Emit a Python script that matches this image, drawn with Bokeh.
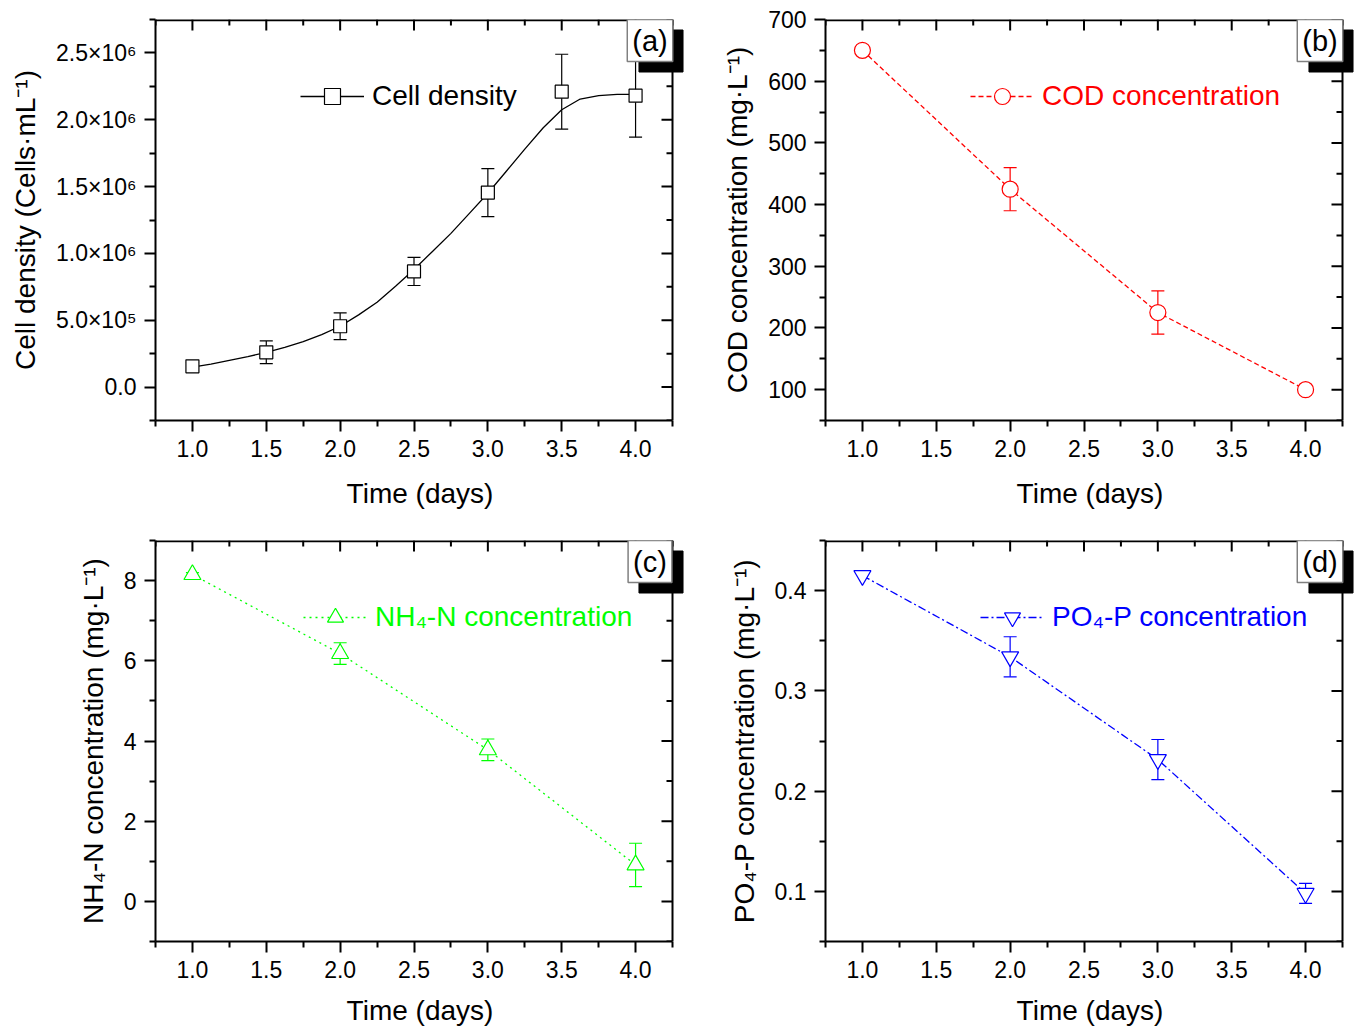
from bokeh.plotting import figure
from bokeh.models import (Range1d, FixedTicker, Whisker, TeeHead, ColumnDataSource,
                          Legend, LegendItem, Label)
from bokeh.layouts import column, row
from bokeh.embed import file_html
from bokeh.resources import INLINE

FONT = "'Liberation Sans', Arial, sans-serif"

# ---------------- data ----------------
time_ticks = [1.0, 1.5, 2.0, 2.5, 3.0, 3.5, 4.0]
time_tick_labels = ["1.0", "1.5", "2.0", "2.5", "3.0", "3.5", "4.0"]
time_minor = [0.75, 1.25, 1.75, 2.25, 2.75, 3.25, 3.75, 4.25]
time_title = "Time (days)"

cell_days = [1.0, 1.5, 2.0, 2.5, 3.0, 3.5, 4.0]
cell_density = [1.55e5, 2.6e5, 4.55e5, 8.65e5, 1.455e6, 2.21e6, 2.18e6]
cell_err = [3.0e4, 8.5e4, 1.0e5, 1.05e5, 1.8e5, 2.8e5, 3.1e5]
fit_days = [1.0, 1.125, 1.25, 1.375, 1.5, 1.625, 1.75, 1.875, 2.0, 2.125, 2.25, 2.375, 2.5,
            2.625, 2.75, 2.875, 3.0, 3.125, 3.25, 3.375, 3.5, 3.625, 3.75, 3.875, 4.0]
fit_density = [1.5e5, 1.72e5, 2.0e5, 2.28e5, 2.6e5, 2.97e5, 3.4e5, 3.93e5, 4.55e5, 5.4e5, 6.35e5,
               7.55e5, 8.8e5, 1.015e6, 1.15e6, 1.3e6, 1.45e6, 1.615e6, 1.78e6, 1.94e6, 2.075e6,
               2.155e6, 2.18e6, 2.19e6, 2.19e6]
cell_ticks = [0, 5e5, 1e6, 1.5e6, 2e6, 2.5e6]
cell_tick_labels = ["0.0", "5.0×10⁵", "1.0×10⁶", "1.5×10⁶", "2.0×10⁶", "2.5×10⁶"]
cell_minor = [-2.5e5, 2.5e5, 7.5e5, 1.25e6, 1.75e6, 2.25e6, 2.75e6]

cod_days = [1.0, 2.0, 3.0, 4.0]
cod = [650, 425, 225, 100]
cod_err = [0, 35, 35, 0]
cod_ticks = [100, 200, 300, 400, 500, 600, 700]
cod_tick_labels = ["100", "200", "300", "400", "500", "600", "700"]
cod_minor = [50, 150, 250, 350, 450, 550, 650]

nh4_days = [1.0, 2.0, 3.0, 4.0]
nh4 = [8.15, 6.18, 3.78, 0.91]
nh4_err = [0.05, 0.27, 0.27, 0.54]
nh4_ticks = [0, 2, 4, 6, 8]
nh4_tick_labels = ["0", "2", "4", "6", "8"]
nh4_minor = [-1, 1, 3, 5, 7, 9]

po4_days = [1.0, 2.0, 3.0, 4.0]
po4 = [0.415, 0.334, 0.2315, 0.098]
po4_err = [0, 0.02, 0.02, 0.01]
po4_ticks = [0.1, 0.2, 0.3, 0.4]
po4_tick_labels = ["0.1", "0.2", "0.3", "0.4"]
po4_minor = [0.05, 0.15, 0.25, 0.35, 0.45]

FW, FH = 517, 401   # visible frame size in px
EXT = 12            # extra drawing room right of the visible frame (for the label shadow)


def make_panel(W, H, bl, br, bt, bb, yr, yticks, ylabels, yminor, ytitle, letter,
               color, marker, msize, xs, ys, errs, legend_label, dash, leg_x,
               line_x=None, line_y=None, title_standoff=14):
    x0, xv = 0.75, 4.25          # visible x-limits of the panel box
    y0, y1 = yr
    sx = (xv - x0) / FW
    sy = (y1 - y0) / FH
    x1 = xv + EXT * sx
    p = figure(width=W, height=H, x_range=Range1d(x0, x1), y_range=Range1d(y0, y1),
               output_backend="svg", toolbar_location=None,
               min_border_left=bl, min_border_right=br - EXT, min_border_top=bt, min_border_bottom=bb)
    p.background_fill_color = "white"
    p.border_fill_color = "white"
    p.outline_line_color = None
    p.xgrid.visible = False
    p.ygrid.visible = False

    xt = FixedTicker(ticks=time_ticks, minor_ticks=time_minor)
    yt = FixedTicker(ticks=yticks, minor_ticks=yminor)

    for ax, tk, labs in ((p.xaxis[0], xt, time_tick_labels), (p.yaxis[0], yt, ylabels)):
        ax.ticker = tk
        ax.major_label_overrides = {t: l for t, l in zip(tk.ticks, labs)}
        ax.axis_line_width = 2
        ax.major_tick_line_width = 2
        ax.minor_tick_line_width = 2
        ax.major_tick_out = 11
        ax.major_tick_in = 0
        ax.minor_tick_out = 6
        ax.minor_tick_in = 0
        ax.major_label_text_font = FONT
        ax.major_label_text_font_size = "23px"
        ax.major_label_text_color = "black"
        ax.major_label_standoff = 8
        ax.axis_label_text_font = FONT
        ax.axis_label_text_font_size = "28px"
        ax.axis_label_text_font_style = "normal"
        ax.axis_label_text_color = "black"
    p.xaxis[0].bounds = (x0, xv)
    p.xaxis[0].axis_label = time_title
    p.xaxis[0].axis_label_standoff = title_standoff
    p.yaxis[0].axis_label = ytitle
    p.yaxis[0].axis_label_standoff = 12

    # top and right edges of the panel box
    p.segment(x0=[x0], y0=[y1], x1=[xv], y1=[y1], line_color="black", line_width=3.5)
    p.segment(x0=[xv], y0=[y0], x1=[xv], y1=[y1], line_color="black", line_width=2)
    # inward ticks on the top and right edges (mirrors of the axis ticks)
    p.segment(x0=time_ticks, y0=[y1] * len(time_ticks), x1=time_ticks,
              y1=[y1 - 11 * sy] * len(time_ticks), line_color="black", line_width=2)
    p.segment(x0=time_minor, y0=[y1] * len(time_minor), x1=time_minor,
              y1=[y1 - 6 * sy] * len(time_minor), line_color="black", line_width=2)
    p.segment(x0=[xv] * len(yticks), y0=yticks, x1=[xv - 11 * sx] * len(yticks), y1=yticks,
              line_color="black", line_width=2)
    p.segment(x0=[xv] * len(yminor), y0=yminor, x1=[xv - 6 * sx] * len(yminor), y1=yminor,
              line_color="black", line_width=2)

    # error bars
    ex = [x for x, e in zip(xs, errs) if e > 0]
    eu = [y + e for y, e in zip(ys, errs) if e > 0]
    el = [y - e for y, e in zip(ys, errs) if e > 0]
    src = ColumnDataSource(dict(x=ex, upper=eu, lower=el))
    p.add_layout(Whisker(source=src, base="x", upper="upper", lower="lower",
                         line_color=color, line_width=1.2,
                         upper_head=TeeHead(size=13, line_color=color, line_width=1.2),
                         lower_head=TeeHead(size=13, line_color=color, line_width=1.2)))

    lx = xs if line_x is None else line_x
    ly = ys if line_y is None else line_y
    lr = p.line(lx, ly, line_color=color, line_width=1.3, line_dash=dash)
    sr = p.scatter(xs, ys, marker=marker, size=msize, line_color=color, line_width=1.2,
                   fill_color="white")

    leg = Legend(items=[LegendItem(label=legend_label, renderers=[lr, sr])],
                 location=(leg_x, 304), glyph_width=64, glyph_height=40, label_height=40,
                 label_standoff=8, padding=0, margin=0, spacing=0,
                 background_fill_alpha=0, border_line_alpha=0,
                 label_text_font=FONT, label_text_font_size="28px",
                 label_text_color=color)
    p.add_layout(leg)

    # panel letter box with a black drop shadow
    p.add_layout(Label(x=xv - 11.5 * sx, y=y1 - 31.5 * sy, text=" ", text_align="center",
                       text_baseline="middle", text_font=FONT, text_font_size="29px",
                       text_color="black", background_fill_color="black", background_fill_alpha=1,
                       border_line_color="black", border_line_alpha=1,
                       padding=dict(left=18, right=18, top=5, bottom=5), level="overlay"))
    p.add_layout(Label(x=xv - 22.5 * sx, y=y1 - 21 * sy, text=letter, text_align="center",
                       text_baseline="middle", text_font=FONT, text_font_size="29px",
                       text_color="black", background_fill_color="white", background_fill_alpha=1,
                       border_line_color="#808080", border_line_width=1.5, border_line_alpha=1,
                       padding=dict(left=5, right=5, top=5, bottom=5), level="overlay"))
    return p


pa = make_panel(700, 520, 155, 28, 19, 100, (-2.5e5, 2.75e6), cell_ticks, cell_tick_labels, cell_minor,
                "Cell density (Cells·mL⁻¹)", "(a)", "black", "square", 13,
                cell_days, cell_density, cell_err, "Cell density", "solid", 145,
                line_x=fit_days, line_y=fit_density, title_standoff=18)
pb = make_panel(655, 520, 125, 13, 19, 100, (50, 700), cod_ticks, cod_tick_labels, cod_minor,
                "COD concentration (mg·L⁻¹)", "(b)", "#FF0000", "circle", 16,
                cod_days, cod, cod_err, "COD concentration", "5 3", 145, title_standoff=18)
pc = make_panel(700, 511, 155, 28, 20, 90, (-1, 9), nh4_ticks, nh4_tick_labels, nh4_minor,
                "NH₄-N concentration (mg·L⁻¹)", "(c)", "#00FF00", "triangle", 17,
                nh4_days, nh4, nh4_err, "NH₄-N concentration", "2 4", 148, title_standoff=14)
pd_ = make_panel(655, 511, 125, 13, 20, 90, (0.05, 0.45), po4_ticks, po4_tick_labels, po4_minor,
                 "PO₄-P concentration (mg·L⁻¹)", "(d)", "#0000FF", "inverted_triangle", 17,
                 po4_days, po4, po4_err, "PO₄-P concentration", "8 3 2 3", 155, title_standoff=14)

layout = column(row(pa, pb), row(pc, pd_))
open("out.html", "w").write(file_html(layout, INLINE))
